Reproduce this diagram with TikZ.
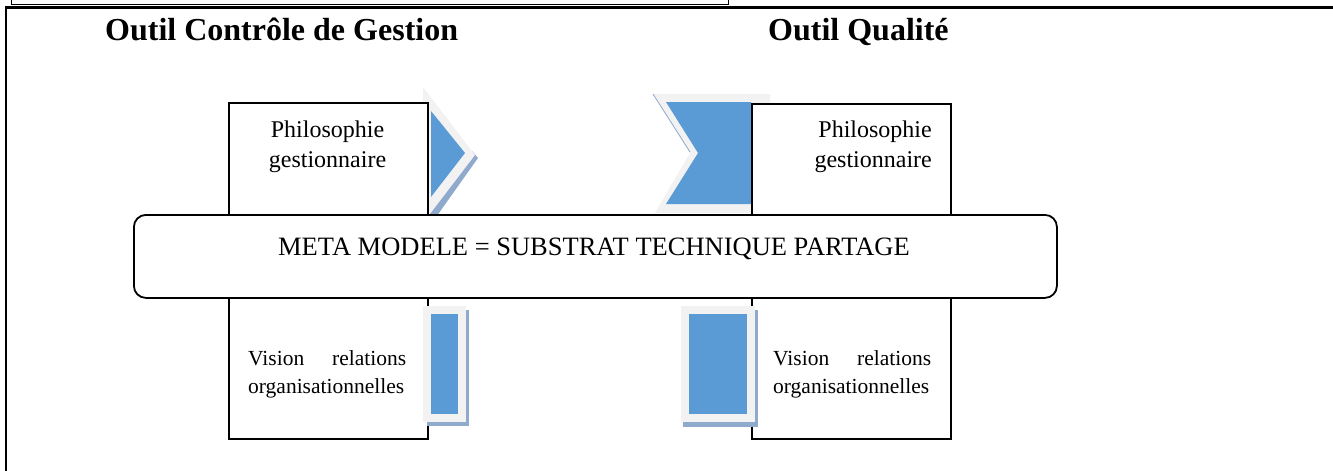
\documentclass[tikz,border=0pt]{standalone}
\usepackage{fontspec}
\setmainfont{Liberation Serif}
\definecolor{arrowblue}{HTML}{5B9BD5}
\definecolor{rimgray}{HTML}{F2F2F2}
\definecolor{shadowblue}{HTML}{8FAACC}
\begin{document}
\begin{tikzpicture}[x=1pt,y=-1pt,
  framebox/.style={draw=black,line width=1.5pt,fill=white,anchor=north west,inner sep=0pt,minimum width=199pt},
  metabox/.style={draw=black,line width=1.8pt,fill=white,rounded corners=12pt,inner sep=0pt,anchor=north west,minimum width=923pt,minimum height=83pt},
  titletext/.style={font=\fontsize{32}{36}\selectfont\bfseries,inner sep=0pt,anchor=base west},
  bodytext/.style={font=\fontsize{24}{29.5}\selectfont,inner sep=0pt},
  visiontext/.style={font=\fontsize{21.5}{28}\selectfont,inner sep=0pt,text width=158pt,align=justify,anchor=north west},
  rim/.style={fill=rimgray,draw=none},
  shade/.style={fill=shadowblue,draw=none},
  core/.style={fill=arrowblue,draw=none}]
\useasboundingbox (0,0) rectangle (1333,471);
% remnants of the caption box above and frame
\draw[line width=1.2pt] (11.5,0) -- (11.5,4.5) -- (728.5,4.5) -- (728.5,0);
\draw[line width=2.4pt] (1333,7.5) -- (6,7.5) -- (6,471);
% titles
\node[titletext] (t1) at (105,40) {Outil Contrôle de Gestion};
\node[titletext] (t2) at (768,40) {Outil Qualité};
% top-left chevron (pointing right)
\fill[shade] (472,151) -- (478,158) -- (429,227) -- (423,223) -- cycle;
\fill[rim] (423,87) -- (475,155) -- (423,223) -- cycle;
\fill[core] (431,111) -- (465,153) -- (431,197) -- cycle;
% top-right chevron (notched)
\fill[rim] (653,94) -- (770,94) -- (770,213) -- (655,213) -- (690,153) -- cycle;
\draw[shadowblue,line width=0.8pt] (653,94) -- (690,152);
\fill[core] (666,102) -- (751,102) -- (751,204) -- (666,204) -- (698,153) -- cycle;
% boxes
\node[framebox,minimum height=158pt] (tl) at (228,102) {};
\node[framebox,minimum height=188pt] (bl) at (228,250) {};
\node[framebox,minimum height=157pt] (tr) at (751,103) {};
\node[framebox,minimum height=188pt] (br) at (751,250) {};
% bottom rectangles
\fill[shade] (427,310) rectangle (469,426);
\fill[rim] (423,306) rectangle (466,422);
\fill[core] (431,314) rectangle (458,414);
\fill[shade] (683,310) rectangle (758,427);
\fill[rim] (681,306) rectangle (755,422);
\fill[core] (689,314) rectangle (747,414);
% texts in boxes
\node[bodytext,align=center,anchor=north] (p1) at (327.5,121) {Philosophie\\gestionnaire};
\node[bodytext,align=right,anchor=north east] (p2) at (932,121) {Philosophie\\gestionnaire};
\node[visiontext] (v1) at (248,350.3) {Vision relations organisationnelles};
\node[visiontext] (v2) at (773,350.3) {Vision relations organisationnelles};
% meta model
\node[metabox] (meta) at (133,214) {};
\node[font=\fontsize{26.5}{30}\selectfont,inner sep=0pt,anchor=base] (metatext) at (594,255) {META MODELE = SUBSTRAT TECHNIQUE PARTAGE};
\end{tikzpicture}
\end{document}
